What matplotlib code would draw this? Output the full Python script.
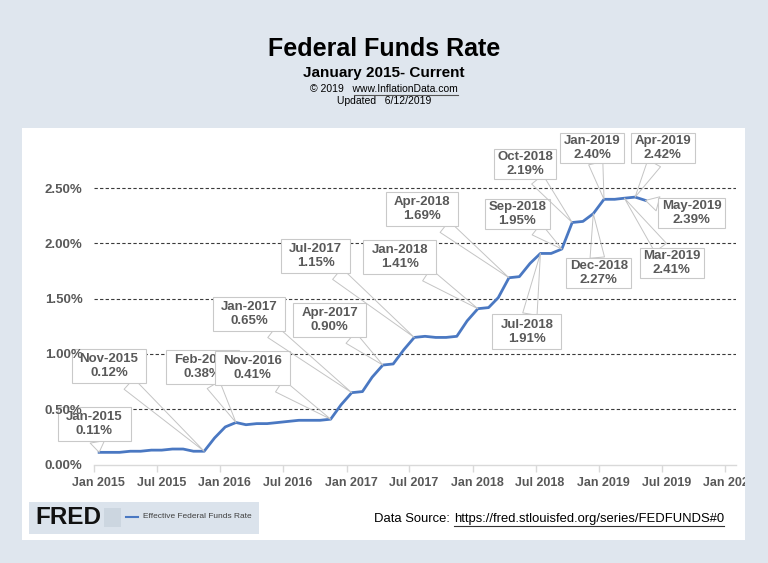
import numpy as np
import matplotlib
matplotlib.use("Agg")
import matplotlib.pyplot as plt
from matplotlib.patches import Rectangle
from matplotlib.lines import Line2D
from matplotlib.path import Path
from matplotlib.transforms import ScaledTranslation

# ---------------- data ----------------
months = np.arange('2015-01', '2019-06', dtype='datetime64[M]')
rates = [0.11, 0.11, 0.11, 0.12, 0.12, 0.13, 0.13, 0.14, 0.14, 0.12, 0.12, 0.24,
         0.34, 0.38, 0.36, 0.37, 0.37, 0.38, 0.39, 0.40, 0.40, 0.40, 0.41, 0.54,
         0.65, 0.66, 0.79, 0.90, 0.91, 1.04, 1.15, 1.16, 1.15, 1.15, 1.16, 1.30,
         1.41, 1.42, 1.51, 1.69, 1.70, 1.82, 1.91, 1.91, 1.95, 2.19, 2.20, 2.27,
         2.40, 2.40, 2.41, 2.42, 2.39]

xtick_dates = np.arange('2015-01', '2020-02', 6, dtype='datetime64[M]')
xtick_labels = ['Jan 2015', 'Jul 2015', 'Jan 2016', 'Jul 2016', 'Jan 2017', 'Jul 2017',
                'Jan 2018', 'Jul 2018', 'Jan 2019', 'Jul 2019', 'Jan 2020']
ytick_values = [0.0, 0.5, 1.0, 1.5, 2.0, 2.5]
ytick_labels = ['0.00%', '0.50%', '1.00%', '1.50%', '2.00%', '2.50%']

# annotated months
ann_months = ['2015-01', '2015-11', '2016-02', '2016-11', '2017-01', '2017-04',
              '2017-07', '2018-01', '2018-04', '2018-07', '2018-09', '2018-10',
              '2018-12', '2019-01', '2019-03', '2019-04', '2019-05']
# layout: box centres (axes fraction) and box size group
ann_pos = [(0.000, 0.122), (0.023, 0.297), (0.169, 0.294), (0.246, 0.291),
           (0.241, 0.454), (0.367, 0.436), (0.345, 0.629), (0.476, 0.626),
           (0.511, 0.771), (0.674, 0.400), (0.659, 0.756), (0.671, 0.906),
           (0.786, 0.578), (0.776, 0.955), (0.900, 0.608), (0.886, 0.955),
           (0.931, 0.759)]
ann_large = [True] * 10 + [False] * 7

# ---------------- style ----------------
BG = '#dfe6ee'
TXT = '#595959'
BLUE = '#4a78c2'
plt.rcParams['font.family'] = ['Liberation Sans', 'DejaVu Sans']

W, H = 768, 563
fig = plt.figure(figsize=(W / 100, H / 100), dpi=100)
fig.patch.set_facecolor(BG)


def fx(px):
    return px / W


def fy(py):
    return 1 - py / H


def callout_box(padx, pady):
    def box(x0, y0, width, height, mutation_size):
        xa, ya = x0 - padx, y0 - pady
        xb, yb = x0 + width + padx, y0 + height + pady
        return Path([(xa, ya), (xb, ya), (xb, yb), (xa, yb), (xa, ya)], closed=True)
    return box


# white panel
fig.add_artist(Rectangle((fx(22), fy(540)), fx(745) - fx(22), fy(128) - fy(540),
                         transform=fig.transFigure, fc='white', ec='none', zorder=-5))

# axes
ax_l, ax_r, ax_b, ax_t = 94.3, 736, 464.5, 133
rect = [fx(ax_l), fy(ax_b), fx(ax_r) - fx(ax_l), fy(ax_t) - fy(ax_b)]
ax = fig.add_axes(rect)
ax.set_facecolor('none')

x = months.astype('datetime64[D]') + np.timedelta64(14, 'D')
ax.plot(x, rates, color=BLUE, lw=2.0, solid_joinstyle='round', zorder=3)

ax.set_xlim(np.datetime64('2015-01-01'), np.datetime64('2020-02-01'))
ax.set_ylim(0, 3.0)

ax.set_xticks(xtick_dates.astype('datetime64[D]'))
ax.set_xticklabels(xtick_labels)
ax.set_yticks(ytick_values)
ax.set_yticklabels([])

for s in ['top', 'right', 'left']:
    ax.spines[s].set_visible(False)
ax.spines['bottom'].set_color('#d9d9d9')
ax.spines['bottom'].set_linewidth(1.0)

ax.tick_params(axis='x', direction='out', length=5, color='#d9d9d9', width=1.0,
               labelsize=9, labelcolor=TXT, pad=4)
ax.tick_params(axis='y', length=0)
for lbl in ax.get_xticklabels():
    lbl.set_fontweight('bold')
    lbl.set_transform(lbl.get_transform() + ScaledTranslation(4.5 / 100, 0, fig.dpi_scale_trans))

ax.yaxis.grid(True, linestyle=(0, (3, 2)), color='#3a3a3a', lw=0.8)
ax.set_axisbelow(True)
ax.get_ygridlines()[0].set_visible(False)

# annotations (callouts)
month_strs = [str(m) for m in months]
for m, (bx, by), big in zip(ann_months, ann_pos, ann_large):
    i = month_strs.index(m)
    lab = months[i].astype(object).strftime('%b-%Y')
    style = callout_box(8, 4.5) if big else callout_box(3.5, 2.0)
    ax.annotate(f"{lab}\n{rates[i]:.2f}%", xy=(x[i], rates[i]), xycoords='data',
                xytext=(bx, by), textcoords='axes fraction', ha='center', va='center',
                fontsize=9.5, fontweight='bold', color=TXT, linespacing=1.2,
                bbox=dict(boxstyle=style, fc='white', ec='#c9c9c9', lw=0.8),
                arrowprops=dict(arrowstyle='wedge,tail_width=1.1', fc='none', ec='#c4c4c4',
                                lw=0.7, shrinkA=0, shrinkB=0, connectionstyle='arc3'),
                annotation_clip=False, zorder=4)

# y tick labels on an overlay axes so they sit above the callouts
ax_lab = fig.add_axes(rect, zorder=5)
ax_lab.set_facecolor('none')
ax_lab.set_ylim(ax.get_ylim())
ax_lab.set_xticks([])
ax_lab.set_yticks(ytick_values)
ax_lab.set_yticklabels(ytick_labels)
for s in ax_lab.spines.values():
    s.set_visible(False)
ax_lab.tick_params(axis='y', length=0, labelsize=9.5, labelcolor=TXT, pad=8.5)
for lbl in ax_lab.get_yticklabels():
    lbl.set_fontweight('bold')

# cover beyond panel's right edge (clips last tick label)
fig.add_artist(Rectangle((fx(745), 0), 1 - fx(745), 1, transform=fig.transFigure,
                         fc=BG, ec='none', zorder=10))

# titles
fig.text(0.5, fy(49), 'Federal Funds Rate', ha='center', va='center', fontsize=18,
         fontweight='bold', color='black')
fig.text(0.5, fy(73), 'January 2015- Current', ha='center', va='center', fontsize=11,
         fontweight='bold', color='black')
t_copy = fig.text(0.5, fy(89.5), '\u00a9 2019   www.InflationData.com', ha='center',
                  va='center', fontsize=7.5, color='black')
fig.text(0.5, fy(101.5), 'Updated   6/12/2019', ha='center', va='center', fontsize=7.5,
         color='black')

# FRED logo box
fig.add_artist(Rectangle((fx(29), fy(534)), fx(259) - fx(29), fy(502) - fy(534),
                         transform=fig.transFigure, fc='#dbe3ec', ec='none', zorder=1))
fig.text(fx(35), fy(518), 'FRED', ha='left', va='center', fontsize=17.5, fontweight='bold',
         color='#111111', zorder=2)
fig.add_artist(Rectangle((fx(104), fy(527)), fx(121) - fx(104), fy(508) - fy(527),
                         transform=fig.transFigure, fc='#ccd6e0', ec='none', zorder=2))
fig.add_artist(Line2D([fx(126), fx(138)], [fy(516.5), fy(516.5)], transform=fig.transFigure,
                      color=BLUE, lw=1.5, zorder=2))
fig.text(fx(143), fy(516.5), 'Effective Federal Funds Rate', ha='left', va='center',
         fontsize=6, color='#404040', zorder=2)

# data source
t1 = fig.text(fx(374), fy(519), 'Data Source:', ha='left', va='center', fontsize=9.4,
              color='black')
fig.canvas.draw()
r = fig.canvas.get_renderer()
e1 = t1.get_window_extent(r)
t2 = fig.text((e1.x1 + 4) / W, fy(519), 'https://fred.stlouisfed.org/series/FEDFUNDS#0',
              ha='left', va='center', fontsize=9.4, color='black')
fig.canvas.draw()
e2 = t2.get_window_extent(r)
fig.add_artist(Line2D([e2.x0 / W, e2.x1 / W], [(e2.y0 - 0.5) / H] * 2,
                      transform=fig.transFigure, color='#333333', lw=0.8))
ec = t_copy.get_window_extent(r)
ux0 = ec.x0 + (ec.x1 - ec.x0) * 0.30
fig.add_artist(Line2D([ux0 / W, ec.x1 / W], [(ec.y0 - 0.3) / H] * 2,
                      transform=fig.transFigure, color='#555555', lw=0.8))

fig.savefig('out.png', dpi=100, facecolor=BG)
